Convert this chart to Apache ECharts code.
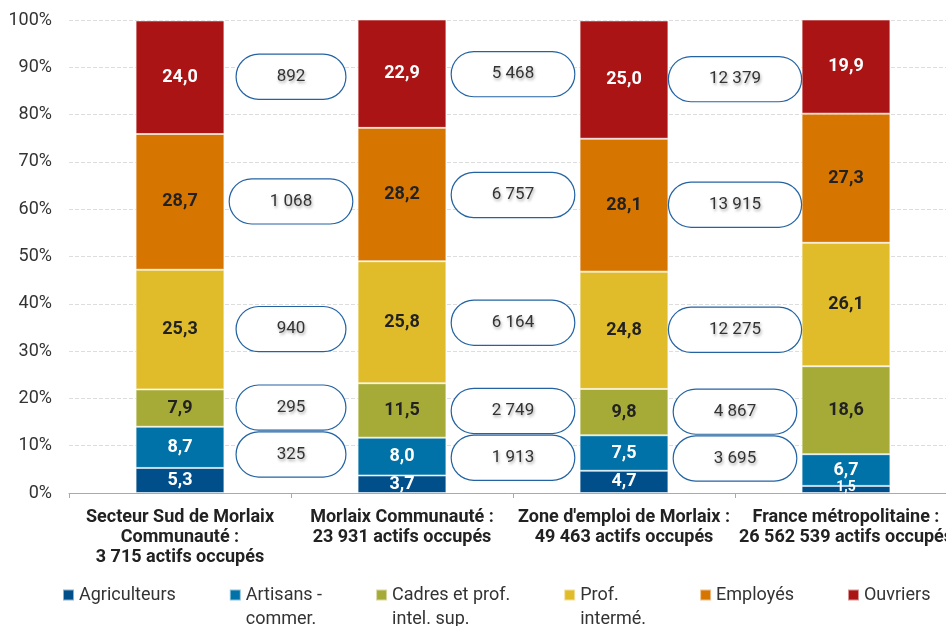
<!DOCTYPE html>
<html>
<head>
<meta charset="utf-8">
<script src="https://cdn.jsdelivr.net/npm/echarts@6/dist/echarts.min.js"></script>
<style>
  html, body { margin: 0; padding: 0; background: #fff; }
  #chart { width: 946px; height: 626px; }
</style>
</head>
<body>
<div id="chart"></div>
<script>
var categories = [
    'Secteur Sud de Morlaix\nCommunauté :\n3 715 actifs occupés',
    'Morlaix Communauté :\n23 931 actifs occupés',
    "Zone d'emploi de Morlaix :\n49 463 actifs occupés",
    'France métropolitaine :\n26 562 539 actifs occupés'
];

var agriculteurs = [5.3, 3.7, 4.7, 1.5];
var artisans = [8.7, 8.0, 7.5, 6.7];
var cadres = [7.9, 11.5, 9.8, 18.6];
var profInter = [25.3, 25.8, 24.8, 26.1];
var employes = [28.7, 28.2, 28.1, 27.3];
var ouvriers = [24.0, 22.9, 25.0, 19.9];

// effectifs (actifs occupés) des trois territoires locaux
var nbArtisans = [325, 1913, 3695];
var nbCadres = [295, 2749, 4867];
var nbProf = [940, 6164, 12275];
var nbEmployes = [1068, 6757, 13915];
var nbOuvriers = [892, 5468, 12379];

var yTicks = [0, 10, 20, 30, 40, 50, 60, 70, 80, 90, 100];

var chart = echarts.init(document.getElementById('chart'), null, { renderer: 'canvas' });

var fmtDec = function (v) { return v.toFixed(1).replace('.', ','); };
var fmtInt = function (n) { return String(n).replace(/\B(?=(\d{3})+(?!\d))/g, ' '); };

var seriesDefs = [
    { name: 'Agriculteurs', data: agriculteurs, color: '#004f8a', text: '#fff' },
    { name: 'Artisans -\ncommer.', data: artisans, color: '#0072a8', text: '#fff' },
    { name: 'Cadres et prof.\nintel. sup.', data: cadres, color: '#a6ab37', text: '#222' },
    { name: 'Prof.\nintermé.', data: profInter, color: '#e0bc2b', text: '#222' },
    { name: 'Employés', data: employes, color: '#d67500', text: '#222' },
    { name: 'Ouvriers', data: ouvriers, color: '#ab1414', text: '#fff' }
];

var series = seriesDefs.map(function (s) {
    return {
        name: s.name,
        type: 'bar',
        stack: 'total',
        barWidth: '40%',
        color: s.color,
        itemStyle: { borderColor: 'rgba(255,255,255,0.55)', borderWidth: 1 },
        label: {
            show: true,
            color: s.text,
            fontFamily: 'Roboto',
            fontWeight: 'bold',
            fontSize: 18,
            formatter: function (p) { return fmtDec(p.value); }
        },
        data: s.data.map(function (v) {
            if (v < 3) {
                return { value: v, label: { fontSize: 14, offset: [0, -2] } };
            }
            return v;
        })
    };
});

// bulles d'effectifs : au milieu du segment, décalées si elles se chevauchent
var countSets = [
    [ouvriers, nbOuvriers],
    [employes, nbEmployes],
    [profInter, nbProf],
    [cadres, nbCadres],
    [artisans, nbArtisans]
];
var bubbleData = [];
var minGap = 9.9;
for (var i = 0; i < nbOuvriers.length; i++) {
    var cum = 100;
    var prevY = null;
    for (var k = 0; k < countSets.length; k++) {
        var v = countSets[k][0][i];
        var y = cum - v / 2;
        cum -= v;
        if (prevY !== null && prevY - y < minGap) {
            y = prevY - minGap;
        }
        prevY = y;
        bubbleData.push([i, y, countSets[k][1][i]]);
    }
}

series.push({
    type: 'custom',
    z: 5,
    silent: true,
    encode: { x: 0, y: 1 },
    renderItem: function (params, api) {
        var pt = api.coord([api.value(0), api.value(1)]);
        var w = api.size([1, 0])[0];
        return {
            type: 'text',
            x: pt[0] + w / 2,
            y: pt[1],
            style: {
                text: fmtInt(api.value(2)),
                align: 'center',
                verticalAlign: 'middle',
                fill: '#333',
                font: '17px Roboto',
                lineHeight: 44,
                padding: [0, 40, 0, 40],
                backgroundColor: '#fff',
                borderColor: '#2363a3',
                borderWidth: 1.2,
                borderRadius: 23,
                textShadowColor: 'rgba(0,0,0,0.35)',
                textShadowBlur: 3,
                textShadowOffsetX: 1,
                textShadowOffsetY: 2
            }
        };
    },
    data: bubbleData
});

var option = {
    animation: false,
    grid: { left: 69, top: 20, width: 888, height: 473, outerBoundsMode: 'none' },
    legend: {
        data: seriesDefs.map(function (s) { return s.name; }),
        left: 57,
        top: 554,
        itemGap: 53,
        itemWidth: 11,
        itemHeight: 11,
        icon: 'rect',
        formatter: function (name) {
            return name.indexOf('\n') >= 0 ? ' \n' + name : name;
        },
        textStyle: { fontFamily: 'Roboto', fontSize: 18, color: '#333', lineHeight: 24 }
    },
    xAxis: {
        type: 'category',
        data: categories,
        axisLine: { lineStyle: { color: '#aaa' } },
        axisTick: { show: true, length: 5, lineStyle: { color: '#aaa' } },
        axisLabel: {
            interval: 0,
            margin: 14,
            fontFamily: 'Roboto',
            fontWeight: 'bold',
            fontSize: 18,
            lineHeight: 20,
            color: '#222'
        }
    },
    yAxis: {
        type: 'value',
        min: yTicks[0],
        max: yTicks[yTicks.length - 1],
        interval: 10,
        axisLine: { show: false },
        axisTick: { show: false },
        axisLabel: {
            margin: 17,
            fontFamily: 'Roboto',
            fontSize: 18,
            color: '#333',
            formatter: '{value}%'
        },
        splitLine: { lineStyle: { color: '#ddd', type: 'dashed' } }
    },
    series: series
};

chart.setOption(option);
window.addEventListener('resize', chart.resize);
</script>
</body>
</html>
